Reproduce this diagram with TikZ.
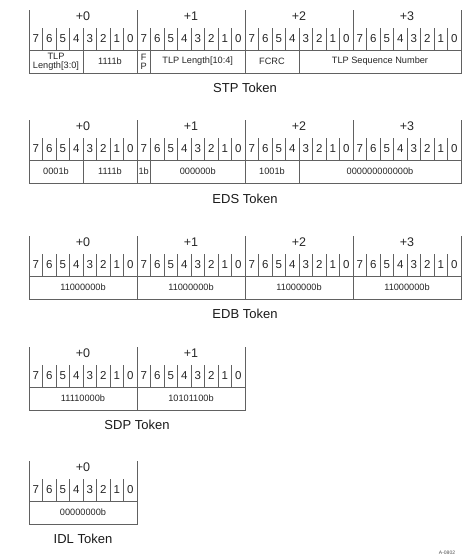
\documentclass[tikz,border=0pt]{standalone}
\usepackage{fontspec}
\setmainfont{Liberation Sans}
\usepackage{xcolor}
\usepackage{tikz}

% byte/bit header of one token: #1 = top y, #2 = number of bytes
\newcommand{\tokenhead}[2]{%
  \pgfmathsetmacro{\hdy}{#1+40}%
  \pgfmathsetmacro{\boty}{#1+63}%
  \pgfmathsetmacro{\tiky}{#1+18}%
  \pgfmathsetmacro{\digy}{#1+32}%
  \pgfmathsetmacro{\laby}{#1+6}%
  \pgfmathsetmacro{\rgtx}{29+108*#2}%
  \pgfmathtruncatemacro{\lastbyte}{#2-1}%
  \pgfmathtruncatemacro{\lastbit}{8*#2-1}%
  \draw[frame] (29,#1) -- (29,\boty) -- (\rgtx,\boty) -- (\rgtx,#1);
  \draw[frame] (29,\hdy) -- (\rgtx,\hdy);
  \foreach \b in {0,...,\lastbyte} {
    \node[bytelbl] at (29+108*\b+54,\laby) {+\b};
    \ifnum\b>0 \draw[frame] (29+108*\b,#1) -- (29+108*\b,\hdy); \fi
  }
  \foreach \i in {0,...,\lastbit} {
    \pgfmathtruncatemacro{\bitno}{7-mod(\i,8)}
    \node[bitlbl] at (29+13.5*\i+6.75,\digy) {\bitno};
    \ifnum\bitno<7 \draw[frame] (29+13.5*\i,\tiky) -- (29+13.5*\i,\hdy); \fi
  }
}

\begin{document}
\begin{tikzpicture}[x=1pt,y=-1pt,
  frame/.style={draw=black!62,line width=0.85pt},
  bytelbl/.style={font=\fontsize{12.5}{12.5}\selectfont,text=black!85,inner sep=0pt},
  bitlbl/.style={font=\fontsize{11.5}{11.5}\selectfont,text=black!85,inner sep=0pt,anchor=base},
  field/.style={font=\fontsize{9.2}{10}\selectfont,text=black!85,inner sep=0pt,align=center},
  caption/.style={font=\fontsize{13}{13}\selectfont,text=black!90,inner sep=0pt}]
\useasboundingbox (0,0) rectangle (471,558);

% --- STP token ---
\tokenhead{10}{4}
\draw[frame] (83,50) -- (83,73);
\draw[frame] (137,50) -- (137,73);
\draw[frame] (150.5,50) -- (150.5,73);
\draw[frame] (245,50) -- (245,73);
\draw[frame] (299,50) -- (299,73);
\node[field] (stplenlo) at (56,62) {TLP\\[-1pt]Length[3:0]};
\node[field] (stpsym) at (110,61.5) {1111b};
\node[field] (stpfp) at (143.75,62) {F\\[-1pt]P};
\node[field] (stplenhi) at (197.75,61.5) {TLP Length[10:4]};
\node[field] (stpfcrc) at (272,61.5) {FCRC};
\node[field] (stpseq) at (380,61.5) {TLP Sequence Number};
\node[caption] (stpname) at (245,88) {STP Token};

% --- EDS token ---
\tokenhead{120}{4}
\draw[frame] (83,160) -- (83,183);
\draw[frame] (137,160) -- (137,183);
\draw[frame] (150.5,160) -- (150.5,183);
\draw[frame] (245,160) -- (245,183);
\draw[frame] (299,160) -- (299,183);
\node[field] (edsa) at (56,171.5) {0001b};
\node[field] (edsb) at (110,171.5) {1111b};
\node[field] (edsc) at (143.75,171.5) {1b};
\node[field] (edsd) at (197.75,171.5) {000000b};
\node[field] (edse) at (272,171.5) {1001b};
\node[field] (edsf) at (380,171.5) {000000000000b};
\node[caption] (edsname) at (245,199) {EDS Token};

% --- EDB token ---
\tokenhead{236}{4}
\foreach \b in {1,2,3}
  \draw[frame] (29+108*\b,276) -- (29+108*\b,299);
\foreach \b in {0,1,2,3}
  \node[field] (edb\b) at (29+108*\b+54,287.5) {11000000b};
\node[caption] (edbname) at (245,314) {EDB Token};

% --- SDP token ---
\tokenhead{347}{2}
\draw[frame] (137,387) -- (137,410);
\node[field] (sdpa) at (83,398.5) {11110000b};
\node[field] (sdpb) at (191,398.5) {10101100b};
\node[caption] (sdpname) at (137,425) {SDP Token};

% --- IDL token ---
\tokenhead{461}{1}
\node[field] (idla) at (83,512.5) {00000000b};
\node[caption] (idlname) at (83,539) {IDL Token};

\node[font=\fontsize{5}{5}\selectfont,text=black!70,inner sep=0pt] (figno) at (447,553) {A-0802};
\end{tikzpicture}
\end{document}
